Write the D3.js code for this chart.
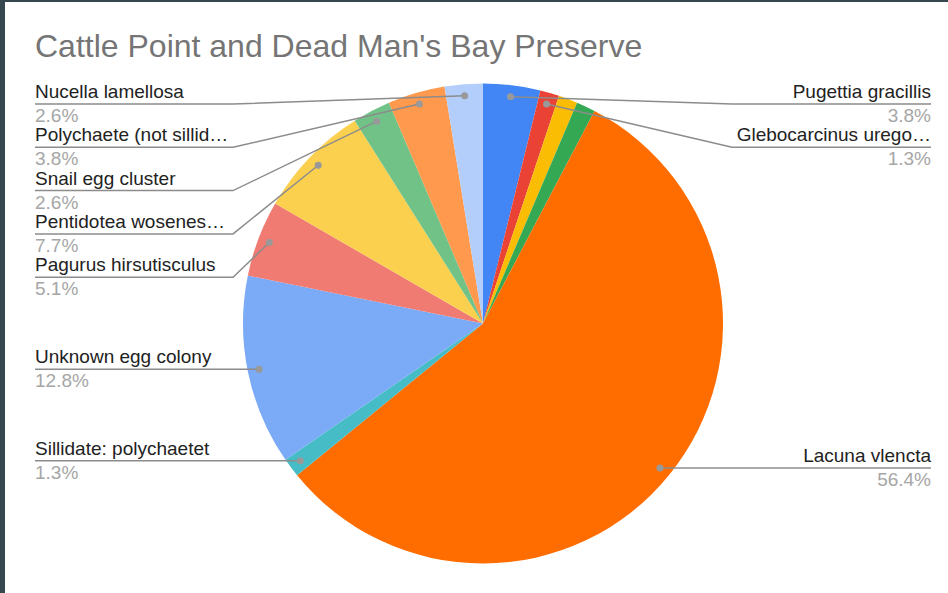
<!DOCTYPE html>
<html>
<head>
<meta charset="utf-8">
<script src="https://cdn.jsdelivr.net/npm/d3@7"></script>
<style>
  html, body { margin: 0; padding: 0; background: #36474f; }
  svg { display: block; }
</style>
</head>
<body>
<script>
// ---- data ----
const categories = [
  "Pugettia gracillis", "Glebocarcinus urego\u2026", "Unlabeled A", "Unlabeled B",
  "Lacuna vlencta", "Sillidate: polychaetet", "Unknown egg colony", "Pagurus hirsutisculus",
  "Pentidotea wosenes\u2026", "Snail egg cluster", "Polychaete (not sillid\u2026", "Nucella lamellosa"
];
const counts = [3, 1, 1, 1, 44, 1, 10, 4, 6, 2, 3, 2];
const percentLabels = ["3.8%", "1.3%", "1.3%", "1.3%", "56.4%", "1.3%", "12.8%", "5.1%", "7.7%", "2.6%", "3.8%", "2.6%"];
const showLabel = [true, true, false, false, true, true, true, true, true, true, true, true];
const colors = ["#4285f4", "#ea4335", "#fbbc04", "#34a853", "#ff6d01", "#46bdc6",
                "#7baaf7", "#f07b72", "#fcd04f", "#71c287", "#ff994d", "#b3cefb"];
const title = "Cattle Point and Dead Man's Bay Preserve";

// ---- layout ----
const W = 948, H = 593;
const cx = 483, cy = 323.5, R = 240, anchorR = 228.5;
const svg = d3.select("body").append("svg").attr("width", W).attr("height", H);
svg.append("rect").attr("x", 5).attr("y", 2).attr("width", W - 5).attr("height", H - 2).attr("fill", "#ffffff");

const font = "'Liberation Sans', Arial, sans-serif";
svg.append("text").attr("x", 35).attr("y", 57)
  .attr("font-family", font)
  .attr("font-size", 32).attr("fill", "#757575").text(title);

const data = categories.map((c, i) => ({ name: c, value: counts[i], pct: percentLabels[i], show: showLabel[i], color: colors[i], i }));
const pie = d3.pie().value(d => d.value).sort(null);
const arcs = pie(data);
const arc = d3.arc().innerRadius(0).outerRadius(R);

const g = svg.append("g").attr("transform", `translate(${cx},${cy})`);
g.selectAll("path").data(arcs).join("path")
  .attr("d", arc).attr("fill", d => d.data.color);

// anchors
arcs.forEach(a => {
  const m = (a.startAngle + a.endAngle) / 2;
  a.ax = cx + anchorR * Math.sin(m);
  a.ay = cy - anchorR * Math.cos(m);
  a.side = Math.sin(m) >= 0 ? "right" : "left";
});

const spacing = 43.3, minY = 104;
["left", "right"].forEach(side => {
  const items = arcs.filter(a => a.data.show && a.side === side).sort((p, q) => p.ay - q.ay);
  let prev = -Infinity;
  items.forEach(a => {
    const y = Math.max(a.ay, minY, prev + spacing);
    a.ly = y; prev = y;
  });
});

const lineColor = "#8c8c8c";
arcs.filter(a => a.data.show).forEach(a => {
  const left = a.side === "left";
  const outerX = left ? 35 : 931;
  const innerX = left ? 233 : 732;
  const y = a.ly;
  let pts;
  if (Math.abs(a.ay - y) < 1) {
    pts = [[a.ax, y], [outerX, y]];
  } else {
    pts = [[a.ax, a.ay], [innerX, y], [outerX, y]];
  }
  svg.append("path").attr("d", d3.line()(pts))
    .attr("fill", "none").attr("stroke", lineColor).attr("stroke-width", 1.5);
  svg.append("circle").attr("cx", a.ax).attr("cy", a.ay).attr("r", 3.5).attr("fill", "#999999");
  svg.append("text").attr("x", outerX).attr("y", y - 6)
    .attr("text-anchor", left ? "start" : "end")
    .attr("font-family", font).attr("font-size", 19).attr("fill", "#222222")
    .text(a.data.name);
  svg.append("text").attr("x", outerX).attr("y", y + 18)
    .attr("text-anchor", left ? "start" : "end")
    .attr("font-family", font).attr("font-size", 19).attr("fill", "#a6a6a6")
    .text(a.data.pct);
});
</script>
</body>
</html>
